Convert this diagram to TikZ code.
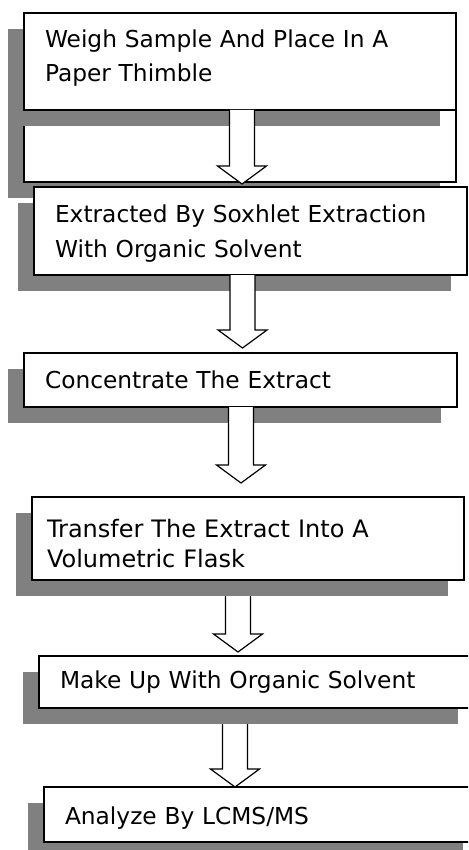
\documentclass[tikz,border=0pt]{standalone}
\usepackage{fontspec}
\setmainfont{DejaVu Sans}
\usetikzlibrary{calc,shadows}

\definecolor{shadowgrey}{RGB}{128,128,128}

\tikzset{
  stepbox/.style={draw, line width=1.4pt, fill=white, anchor=north west, outer sep=0pt,
    inner xsep=21pt, align=left, font=\fontsize{23.3}{34}\selectfont,
    drop shadow={shadow xshift=-16pt, shadow yshift=-16pt, fill=shadowgrey, opacity=1}},
  arrowbox/.style={draw, line width=1.2pt, fill=white, line join=miter}
}

% block arrow, open at the top
\newcommand\blockarrow[2]{%
  \draw[arrowbox] let \p1=(#1), \p2=(#2) in
    (\x1+12.5pt,\y1) -- (\x1+12.5pt,\y2+18pt) -- (\x1+24.5pt,\y2+18pt)
    -- (\x2,\y2) -- (\x1-24.5pt,\y2+18pt) -- (\x1-12.5pt,\y2+18pt)
    -- (\x1-12.5pt,\y1);}

\begin{document}
\begin{tikzpicture}[x=1pt,y=-1pt]

	\useasboundingbox (0,0) rectangle (468,850);
	\clip (0,0) rectangle (468,850);

	% boxes
	\node[stepbox, text width=390pt, minimum height=169pt] (boxB) at (24,13) {};
	\node[stepbox, text width=390pt, minimum height=97pt, text depth=45.5pt] (boxA) at (24,13) {Weigh Sample And Place In A\\Paper Thimble};
	\node[stepbox, text width=391pt, minimum height=88pt, text height=23.7pt, font=\fontsize{23.3}{35}\selectfont] (box2) at (34,187) {Extracted By Soxhlet Extraction\\With Organic Solvent};
	\node[stepbox, text width=391pt, minimum height=54pt] (box3) at (24,353) {Concentrate The Extract};
	\node[stepbox, text width=402pt, inner xsep=15pt, minimum height=83pt, text height=28pt, font=\fontsize{24}{30}\selectfont] (box4) at (32,497) {Transfer The Extract Into A\\Volumetric Flask};
	\node[stepbox, text width=393pt, minimum height=52pt] (box5) at (39,656) {Make Up With Organic Solvent};
	\node[stepbox, text width=393pt, minimum height=55pt, text height=25pt] (box6) at (44,787) {Analyze By LCMS/MS};

	% arrow tips
	\coordinate (tip1) at (242,184);
	\coordinate (tip2) at (242.5,348);
	\coordinate (tip3) at (241,483);
	\coordinate (tip4) at (238,652);
	\coordinate (tip5) at (235,787);

	\blockarrow{tip1 |- boxA.south}{tip1}
	\blockarrow{tip2 |- box2.south}{tip2}
	\blockarrow{tip3 |- box3.south}{tip3}
	\blockarrow{$(tip4 |- box4.south)+(0,16)$}{tip4}
	\blockarrow{$(tip5 |- box5.south)+(0,16)$}{tip5}

\end{tikzpicture}
\end{document}
